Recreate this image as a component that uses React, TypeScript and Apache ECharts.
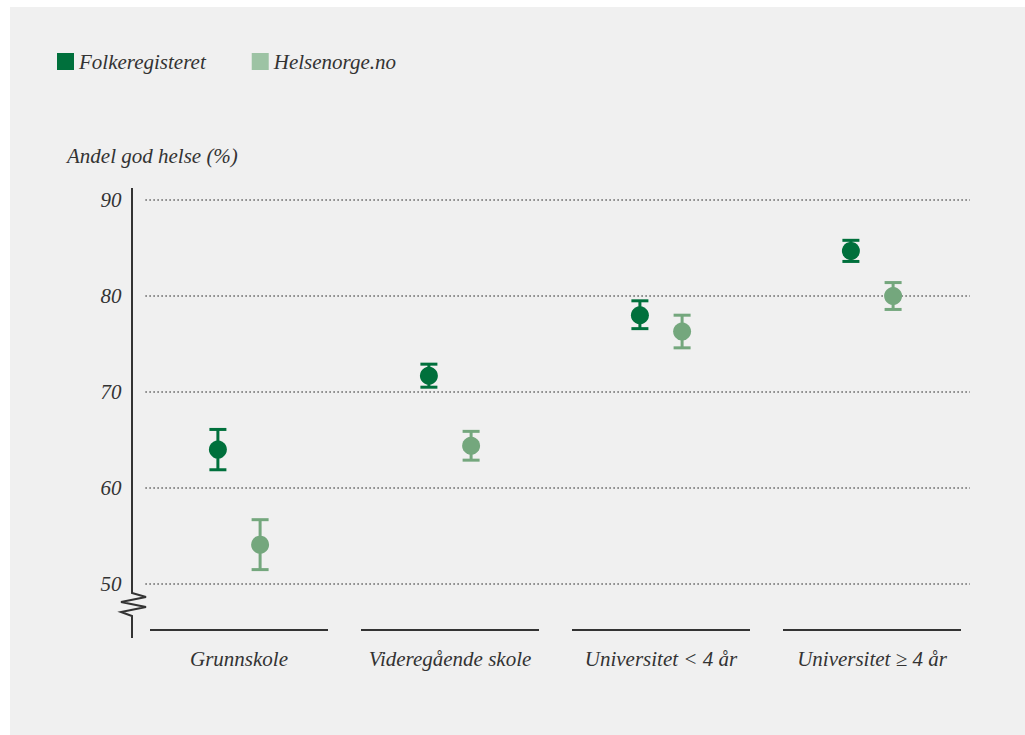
import React, { useEffect, useRef } from "react";
import * as echarts from "echarts";

const categories = ["Grunnskole", "Videregående skole", "Universitet < 4 år", "Universitet ≥ 4 år"];
const seriesNames = ["Folkeregisteret", "Helsenorge.no"];
const folkMean = [64.0, 71.7, 78.0, 84.7];
const folkLow = [61.9, 70.5, 76.6, 83.6];
const folkHigh = [66.1, 72.9, 79.5, 85.8];
const helseMean = [54.1, 64.4, 76.3, 80.0];
const helseLow = [51.5, 62.9, 74.6, 78.6];
const helseHigh = [56.7, 65.9, 78.0, 81.4];
const yTicks = [50, 60, 70, 80, 90];

const FONT = "'Liberation Serif', 'DejaVu Serif', serif";
const TEXT = "#333333";
const DARK = "#00703C";
const LIGHT_MARK = "#74A77D";
const LIGHT_LEGEND = "#9DC3A4";

function errorSeries(name: string, mean: number[], low: number[], high: number[], color: string, shift: number) {
  return {
    type: "custom",
    name,
    clip: false,
    itemStyle: { color },
    data: categories.map((_, i) => [i, mean[i], low[i], high[i]]),
    renderItem: (params: any, api: any) => {
      const i = api.value(0);
      const band = api.size([1, 0])[0];
      const c = api.coord([i, api.value(1)]);
      const lo = api.coord([i, api.value(2)]);
      const hi = api.coord([i, api.value(3)]);
      const x = c[0] + shift * band;
      const half = 8.5;
      const st = { stroke: color, lineWidth: 3, fill: null };
      return {
        type: "group",
        children: [
          { type: "line", shape: { x1: x, y1: hi[1], x2: x, y2: lo[1] }, style: st },
          { type: "line", shape: { x1: x - half, y1: hi[1], x2: x + half, y2: hi[1] }, style: st },
          { type: "line", shape: { x1: x - half, y1: lo[1], x2: x + half, y2: lo[1] }, style: st },
          { type: "circle", shape: { cx: x, cy: c[1], r: 9 }, style: { fill: color } },
        ],
      };
    },
  };
}

export default function App() {
  const ref = useRef<HTMLDivElement>(null);
  useEffect(() => {
    if (!ref.current) return;
    const chart = echarts.init(ref.current, undefined, { renderer: "svg" });
    chart.setOption({
      animation: false,
      backgroundColor: "#ffffff",
      textStyle: { fontFamily: FONT },
      grid: { left: 133.5, right: 47.5, top: 200, bottom: 151 },
      legend: {
        left: 57,
        top: 51,
        padding: 0,
        itemWidth: 17,
        itemHeight: 17,
        itemGap: 46,
        icon: "rect",
        data: [
          { name: seriesNames[0], itemStyle: { color: DARK } },
          { name: seriesNames[1], itemStyle: { color: LIGHT_LEGEND } },
        ],
        textStyle: { fontFamily: FONT, fontStyle: "italic", fontSize: 21, color: TEXT },
      },
      graphic: [
        { type: "rect", z: -10, shape: { x: 10, y: 7, width: 1015, height: 728 }, style: { fill: "#f0f0f0" } },
        {
          type: "text",
          left: 67,
          top: 145,
          style: { text: "Andel god helse (%)", fontFamily: FONT, fontStyle: "italic", fontSize: 21, fill: TEXT },
        },
        {
          type: "polyline",
          shape: {
            points: [
              [132, 188], [132, 593], [146, 597], [121, 602], [146, 607], [121, 612], [132, 616], [132, 638],
            ],
          },
          style: { stroke: TEXT, lineWidth: 2, fill: null },
        },
      ],
      xAxis: {
        type: "category",
        data: categories,
        axisLine: { show: false },
        axisTick: { show: false },
        splitLine: { show: false },
        axisLabel: { interval: 0, margin: 64, fontFamily: FONT, fontStyle: "italic", fontSize: 21, color: TEXT },
      },
      yAxis: {
        type: "value",
        min: 50,
        max: 90,
        interval: 10,
        axisLine: { show: false },
        axisTick: { show: false },
        splitLine: { show: false },
        axisLabel: { margin: 12, fontFamily: FONT, fontStyle: "italic", fontSize: 21, color: TEXT, padding: [0, 0, 5, 0] },
      },
      series: [
        {
          type: "custom",
          name: "gridlines",
          silent: true,
          clip: false,
          data: yTicks.map((v) => [0, v]),
          renderItem: (params: any, api: any) => {
            const p = api.coord([0, api.value(1)]);
            const cs = params.coordSys;
            return {
              type: "line",
              shape: { x1: cs.x + 12, y1: p[1], x2: cs.x + cs.width - 7.5, y2: p[1] },
              style: { stroke: "#3a3a3a", lineWidth: 1.5, lineDash: [1.2, 2.8], fill: null },
            };
          },
        },
        {
          type: "custom",
          name: "baselines",
          silent: true,
          clip: false,
          data: categories.map((_, i) => [i, 50]),
          renderItem: (params: any, api: any) => {
            const i = api.value(0);
            const band = api.size([1, 0])[0];
            const p = api.coord([i, api.value(1)]);
            const cs = params.coordSys;
            const y = cs.y + cs.height + 46;
            return {
              type: "line",
              shape: { x1: p[0] - band / 2 + 16.5, y1: y, x2: p[0] + band / 2 - 16.5, y2: y },
              style: { stroke: TEXT, lineWidth: 2, fill: null },
            };
          },
        },
        errorSeries(seriesNames[0], folkMean, folkLow, folkHigh, DARK, -0.1),
        errorSeries(seriesNames[1], helseMean, helseLow, helseHigh, LIGHT_MARK, 0.1),
      ],
    });
    return () => chart.dispose();
  }, []);
  return (
    <div style={{ position: "fixed", left: 0, top: 0, width: 1025, height: 735, background: "#fff" }}>
      <div ref={ref} style={{ width: 1025, height: 735 }} />
    </div>
  );
}
